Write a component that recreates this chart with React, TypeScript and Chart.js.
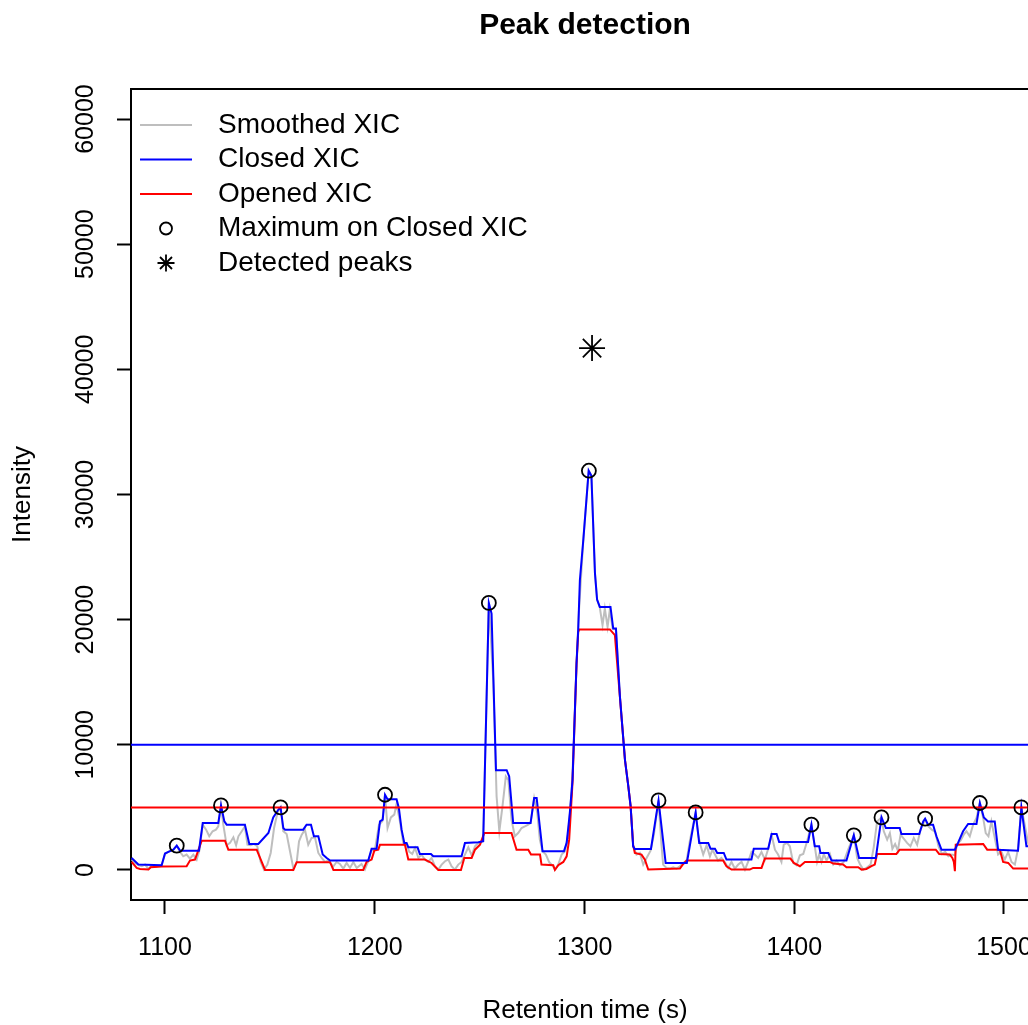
import React, { useEffect, useRef } from 'react';
import { Chart, registerables } from 'chart.js';

Chart.register(...registerables);

const FONT = '"Liberation Sans", Arial, Helvetica, sans-serif';

const titleText = 'Peak detection';
const xTitleText = 'Retention time (s)';
const yTitleText = 'Intensity';
const timeLimits = [1083.79, 1516.7];
const intensityLimits = [-2400, 62400];
const timeTicks = [1100, 1200, 1300, 1400, 1500];
const intensityTicks = [0, 10000, 20000, 30000, 40000, 50000, 60000];

const smoothedTime = [
  1084.1, 1085.7, 1087.3, 1088.9, 1090.5, 1092.1, 1093.6, 1096.0, 1098.4, 1100.0,
  1101.6, 1104.0, 1105.6, 1107.2, 1108.7, 1110.3, 1111.9, 1113.5, 1115.1, 1116.4,
  1118.0, 1119.6, 1121.1, 1122.7, 1124.3, 1125.4, 1126.7, 1127.8, 1129.4, 1131.0,
  1132.6, 1133.9, 1135.0, 1136.6, 1138.1, 1139.3, 1140.8, 1142.4, 1144.0, 1145.6,
  1147.2, 1148.8, 1150.4, 1152.0, 1153.6, 1155.1, 1156.4, 1158.0, 1159.6, 1161.2,
  1162.8, 1163.9, 1165.2, 1166.7, 1168.3, 1169.9, 1171.5, 1173.1, 1174.7, 1176.3,
  1177.9, 1180.2, 1181.8, 1183.4, 1185.0, 1186.6, 1188.2, 1189.8, 1191.4, 1193.7,
  1195.3, 1196.9, 1198.5, 1200.1, 1202.0, 1203.6, 1204.9, 1206.1, 1207.7, 1209.3,
  1210.4, 1212.0, 1213.6, 1215.2, 1216.5, 1217.9, 1219.2, 1220.8, 1222.3, 1223.9,
  1225.5, 1227.1, 1228.7, 1230.3, 1231.9, 1233.5, 1235.1, 1236.6, 1238.2, 1239.8,
  1241.4, 1243.0, 1244.6, 1246.2, 1247.8, 1249.4, 1251.7, 1254.4, 1256.5, 1258.1,
  1259.4, 1260.9, 1262.5, 1263.7, 1265.2, 1266.8, 1268.4, 1270.0, 1271.6, 1273.2,
  1274.3, 1276.0, 1277.5, 1278.7, 1280.0, 1281.6, 1283.2, 1284.8, 1285.9, 1287.5,
  1289.1, 1290.7, 1292.3, 1293.8, 1295.0, 1296.2, 1297.3, 1299.5, 1300.8, 1302.0,
  1303.3, 1305.0, 1306.0, 1307.3, 1308.6, 1309.7, 1311.0, 1312.1, 1313.4, 1315.0,
  1316.9, 1319.3, 1320.9, 1322.0, 1323.2, 1324.8, 1326.4, 1328.0, 1329.6, 1331.5,
  1333.1, 1335.3, 1336.7, 1337.5, 1339.1, 1340.7, 1342.3, 1343.9, 1345.5, 1347.1,
  1348.7, 1350.2, 1353.0, 1354.2, 1355.3, 1356.6, 1358.2, 1359.8, 1361.0, 1362.2,
  1363.7, 1365.3, 1366.9, 1368.5, 1370.1, 1371.7, 1373.3, 1374.9, 1376.5, 1378.0,
  1379.6, 1381.2, 1382.8, 1384.4, 1386.0, 1387.6, 1389.2, 1390.8, 1392.3, 1393.9,
  1395.0, 1396.6, 1397.9, 1399.5, 1401.1, 1402.7, 1404.3, 1405.9, 1408.2, 1409.8,
  1410.9, 1411.9, 1413.0, 1414.1, 1415.4, 1417.0, 1418.6, 1420.2, 1421.7, 1423.6,
  1425.7, 1428.4, 1430.0, 1431.3, 1432.9, 1434.4, 1436.4, 1437.9, 1439.5, 1441.6,
  1442.7, 1444.3, 1445.6, 1446.8, 1448.1, 1449.4, 1450.7, 1452.2, 1453.8, 1455.4,
  1457.0, 1458.6, 1460.2, 1462.4, 1464.0, 1465.6, 1467.2, 1468.8, 1470.4, 1472.0,
  1473.5, 1475.1, 1476.6, 1477.7, 1479.3, 1480.8, 1482.1, 1483.7, 1485.3, 1486.9,
  1488.5, 1490.1, 1491.3, 1492.6, 1494.0, 1495.6, 1497.2, 1498.8, 1500.4, 1502.0,
  1503.6, 1505.2, 1506.7, 1508.3, 1509.9, 1511.5, 1513.0,
];
const smoothedIntensity = [
  830, 560, 380, 300, 430, 80, 350, 270, 380, 1280,
  1440, 1620, 1940, 1440, 1090, 1230, 910, 1230, 830, 1545,
  3620, 3220, 2690, 3090, 3220, 3490, 5160, 3620, 1970, 2160,
  2610, 1970, 2690, 3090, 3490, 2020, 1970, 2080, 1890, 640,
  30, 430, 1360, 3350, 4550, 5000, 3090, 2870, 1490, 110,
  640, 2290, 2820, 3220, 2020, 2560, 2610, 1360, 960, 640,
  750, 270, 640, 480, 110, 560, 160, 640, 160, 480,
  30, 700, 1545, 1620, 3620, 3880, 6010, 3350, 4200, 4420,
  5270, 3880, 2160, 2020, 1440, 1280, 1760, 960, 1230, 830,
  640, 960, 300, 30, 430, 700, 830, 300, 30, 430,
  640, 1230, 1810, 1170, 1890, 2160, 2290, 21340, 15170, 5880,
  3090, 5080, 7470, 7200, 4010, 2690, 2950, 3350, 3480, 3620,
  3750, 5740, 4550, 2420, 1490, 1230, 610, 350, 30, 430,
  1230, 1490, 2950, 6140, 10390, 16500, 20490, 26500, 29300, 31900,
  31500, 23700, 21600, 20970, 19560, 20890, 19430, 20810, 19290, 19210,
  13850, 8800, 6670, 5080, 1890, 1230, 1360, 430, 960, 1545,
  2820, 5560, 2020, 430, 160, 110, 220, 110, 300, 560,
  750, 2290, 4600, 2820, 1970, 1230, 1970, 1090, 1620, 1230,
  750, 960, 640, 160, 640, 110, 430, 640, 30, 640,
  1440, 1230, 960, 1440, 830, 1700, 2820, 1620, 1230, 640,
  2020, 2160, 1890, 560, 380, 1170, 1280, 2160, 3620, 1890,
  640, 1230, 640, 1280, 750, 1280, 430, 750, 380, 640,
  1620, 2770, 960, 480, 30, 160, 430, 1810, 3880, 4200,
  3090, 2420, 2950, 1700, 2080, 1545, 2820, 2500, 2160, 1890,
  2560, 2020, 3220, 4020, 3490, 3220, 3030, 1890, 1280, 1440,
  1090, 1230, 1170, 2100, 2340, 2820, 3090, 2690, 3620, 4150,
  5350, 4150, 2950, 2690, 3880, 2560, 1230, 1440, 830, 1440,
  640, 430, 1700, 5000, 3620, 2160, 1300,
];

const closedTime = [
  1084.1, 1087.3, 1098.4, 1100.0, 1101.6, 1104.0, 1105.6, 1107.2, 1116.2, 1118.0,
  1125.4, 1126.7, 1128.3, 1129.4, 1138.1, 1140.2, 1144.5, 1149.3, 1151.6, 1154.0,
  1155.1, 1156.4, 1157.2, 1165.9, 1167.5, 1169.6, 1171.0, 1173.1, 1175.2, 1177.1,
  1178.7, 1196.9, 1198.5, 1200.9, 1202.5, 1203.8, 1204.9, 1206.1, 1210.4, 1211.5,
  1212.8, 1214.1, 1215.2, 1216.0, 1220.4, 1221.5, 1226.8, 1227.9, 1241.4, 1243.0,
  1249.4, 1251.7, 1254.4, 1255.7, 1257.8, 1262.9, 1264.1, 1266.0, 1274.3, 1276.0,
  1277.2, 1280.0, 1290.2, 1291.5, 1293.0, 1294.3, 1295.1, 1296.2, 1297.0, 1297.8,
  1299.5, 1300.8, 1302.0, 1303.3, 1305.0, 1306.0, 1307.3, 1312.4, 1313.7, 1315.0,
  1316.9, 1319.3, 1320.9, 1322.0, 1323.2, 1324.0, 1331.7, 1335.3, 1338.7, 1348.8,
  1353.0, 1354.7, 1359.0, 1360.1, 1362.2, 1363.3, 1366.4, 1367.7, 1379.6, 1380.7,
  1387.6, 1389.2, 1391.6, 1392.8, 1406.6, 1408.2, 1409.8, 1411.9, 1412.5, 1416.2,
  1417.8, 1424.9, 1428.4, 1430.9, 1438.9, 1441.6, 1443.7, 1450.3, 1451.1, 1459.6,
  1461.5, 1462.4, 1463.8, 1466.2, 1467.8, 1470.2, 1476.6, 1478.1, 1480.5, 1482.9,
  1486.9, 1488.5, 1490.4, 1492.4, 1495.6, 1497.2, 1506.7, 1508.3, 1510.7, 1514.0,
];
const closedIntensity = [
  960, 430, 380, 1310, 1440, 1620, 1940, 1545, 1545, 3750,
  3750, 5160, 3880, 3620, 3620, 2080, 2080, 2950, 4200, 4810,
  5000, 3350, 3220, 3220, 3620, 3620, 2690, 2690, 1230, 960,
  750, 750, 1700, 1700, 3880, 4020, 6010, 5660, 5660, 4950,
  3220, 2160, 2160, 1810, 1810, 1280, 1280, 1090, 1090, 2160,
  2210, 2290, 21340, 20490, 7970, 7970, 7470, 3750, 3750, 5740,
  5740, 1490, 1490, 2160, 4550, 7200, 11190, 16500, 19160, 23150,
  26500, 29300, 31900, 31500, 23700, 21600, 21020, 21020, 19290, 19290,
  13850, 8800, 6670, 5080, 1890, 1680, 1680, 5560, 560, 560,
  4600, 2160, 2160, 1700, 1700, 1360, 1360, 830, 830, 1700,
  1700, 2870, 2870, 2240, 2240, 3620, 1890, 1890, 1360, 1360,
  750, 750, 2770, 960, 960, 4200, 3350, 3350, 2870, 2870,
  3880, 4100, 3620, 3620, 2690, 1620, 1620, 2160, 3090, 3670,
  3670, 5350, 4200, 3880, 3880, 1620, 1545, 5000, 1890, 1890,
];

const openedTime = [
  1084.1, 1086.5, 1088.1, 1092.1, 1093.2, 1098.4, 1110.3, 1111.9, 1114.3, 1117.5,
  1128.6, 1130.2, 1143.7, 1147.7, 1161.2, 1162.8, 1178.7, 1180.3, 1194.5, 1196.1,
  1198.5, 1199.8, 1201.7, 1202.5, 1214.4, 1216.0, 1223.9, 1227.1, 1230.3, 1241.1,
  1242.7, 1246.2, 1247.8, 1250.2, 1252.2, 1265.2, 1267.6, 1273.2, 1274.5, 1278.8,
  1279.5, 1285.1, 1285.9, 1287.5, 1289.9, 1291.5, 1292.7, 1294.3, 1295.1, 1296.2,
  1297.0, 1297.5, 1312.1, 1314.5, 1316.9, 1319.3, 1320.9, 1322.0, 1323.2, 1324.0,
  1327.2, 1328.8, 1330.4, 1345.5, 1347.1, 1348.7, 1366.1, 1367.7, 1370.1, 1378.8,
  1380.4, 1384.4, 1386.0, 1398.2, 1399.8, 1402.7, 1405.1, 1417.0, 1418.6, 1423.3,
  1424.9, 1430.5, 1432.1, 1434.4, 1436.8, 1438.4, 1439.5, 1448.7, 1450.3, 1467.5,
  1469.1, 1474.2, 1475.4, 1476.1, 1476.6, 1477.0, 1490.1, 1492.0, 1498.0, 1499.6,
  1502.0, 1504.4, 1514.0,
];
const openedIntensity = [
  640, 160, 80, 30, 220, 270, 300, 750, 830, 2340,
  2340, 1620, 1620, 0, 0, 620, 620, 0, 0, 640,
  830, 1545, 1620, 2020, 2020, 830, 830, 560, 0, 0,
  960, 960, 1620, 2020, 2950, 2950, 1620, 1620, 1230, 1230,
  430, 380, 0, 380, 640, 1090, 2420, 7000, 11000, 16400,
  19000, 19220, 19220, 18760, 13800, 8800, 6670, 5080, 2000, 1360,
  1230, 830, 30, 110, 480, 750, 750, 300, 30, 30,
  160, 160, 910, 910, 560, 300, 640, 640, 510, 430,
  220, 220, 30, 80, 300, 430, 1280, 1280, 1620, 1620,
  1280, 1230, 960, 640, -100, 2020, 2080, 1620, 1620, 640,
  560, 110, 110,
];

const maximumTime = [1105.6, 1126.7, 1155.1, 1204.9, 1254.4, 1302.1, 1335.3, 1353.0, 1408.2, 1428.4, 1441.6, 1462.4, 1488.5, 1508.3];
const maximumIntensity = [1940, 5160, 5000, 6010, 21340, 31900, 5560, 4600, 3620, 2770, 4200, 4100, 5350, 5000];

const peakTime = [1303.6];
const peakIntensity = [41700];

const closedThreshold = 10000;
const openedThreshold = 5000;

const legendLabels = ['Smoothed XIC', 'Closed XIC', 'Opened XIC', 'Maximum on Closed XIC', 'Detected peaks'];

const GRAY = '#BEBEBE';
const BLUE = '#0000FF';
const RED = '#FF0000';

function toPoints(xs: number[], ys: number[]) {
  return xs.map((x, i) => ({ x, y: ys[i] }));
}

function drawStar(ctx: CanvasRenderingContext2D, cx: number, cy: number, r: number) {
  ctx.beginPath();
  for (let k = 0; k < 4; k++) {
    const a = (k * Math.PI) / 4;
    ctx.moveTo(cx - Math.cos(a) * r, cy - Math.sin(a) * r);
    ctx.lineTo(cx + Math.cos(a) * r, cy + Math.sin(a) * r);
  }
  ctx.stroke();
}

const decorPlugin = {
  id: 'decor',
  afterDraw(chart: any) {
    const { ctx, chartArea, scales } = chart;
    ctx.save();
    // top frame line
    ctx.strokeStyle = '#000';
    ctx.lineWidth = 2;
    const top = Math.round(chartArea.top);
    ctx.beginPath();
    ctx.moveTo(chartArea.left - 1, top);
    ctx.lineTo(chartArea.right, top);
    ctx.stroke();

    // title centred over the plot region
    ctx.fillStyle = '#000';
    ctx.font = `bold 30px ${FONT}`;
    ctx.textAlign = 'center';
    ctx.textBaseline = 'middle';
    ctx.fillText(titleText, (chartArea.left + chartArea.right) / 2, 26);

    // rotated y tick labels
    const ys = scales.y;
    ctx.font = `25px ${FONT}`;
    ys.ticks.forEach((t: any) => {
      const py = ys.getPixelForValue(t.value);
      ctx.save();
      ctx.translate(chartArea.left - 45, py);
      ctx.rotate(-Math.PI / 2);
      ctx.fillText(String(t.value), 0, 0);
      ctx.restore();
    });

    // legend
    const lx = chartArea.left;
    const rowY = (i: number) => top + 36 + i * 34.5;
    const lineColors = [GRAY, BLUE, RED];
    ctx.lineWidth = 2;
    lineColors.forEach((c, i) => {
      ctx.strokeStyle = c;
      ctx.beginPath();
      ctx.moveTo(lx + 9, rowY(i));
      ctx.lineTo(lx + 61, rowY(i));
      ctx.stroke();
    });
    ctx.strokeStyle = '#000';
    ctx.lineWidth = 1.8;
    ctx.beginPath();
    ctx.arc(lx + 35, rowY(3), 6, 0, Math.PI * 2);
    ctx.stroke();
    drawStar(ctx, lx + 35, rowY(4), 8.5);

    ctx.font = `28px ${FONT}`;
    ctx.textAlign = 'left';
    ctx.textBaseline = 'middle';
    ctx.fillStyle = '#000';
    legendLabels.forEach((label, i) => {
      ctx.fillText(label, lx + 87, rowY(i));
    });
    ctx.restore();
  },
};

export default function App() {
  const canvasRef = useRef<HTMLCanvasElement | null>(null);

  useEffect(() => {
    const canvas = canvasRef.current;
    if (!canvas) return;
    const chart = new Chart(canvas, {
      type: 'line',
      data: {
        datasets: [
          {
            label: 'Detected peaks',
            data: toPoints(peakTime, peakIntensity),
            showLine: false,
            pointStyle: 'star',
            pointRadius: 13,
            borderColor: '#000',
            backgroundColor: 'rgba(0,0,0,0)',
            pointBorderWidth: 1.8,
            order: 0,
          },
          {
            label: 'Maximum on Closed XIC',
            data: toPoints(maximumTime, maximumIntensity),
            showLine: false,
            pointStyle: 'circle',
            pointRadius: 7,
            borderColor: '#000',
            backgroundColor: 'rgba(0,0,0,0)',
            pointBorderWidth: 1.8,
            order: 1,
          },
          {
            label: 'Opened threshold',
            data: toPoints(timeLimits, [openedThreshold, openedThreshold]),
            borderColor: RED,
            borderWidth: 2,
            pointRadius: 0,
            order: 2,
          },
          {
            label: 'Closed threshold',
            data: toPoints(timeLimits, [closedThreshold, closedThreshold]),
            borderColor: BLUE,
            borderWidth: 2,
            pointRadius: 0,
            order: 3,
          },
          {
            label: 'Closed XIC',
            data: toPoints(closedTime, closedIntensity),
            borderColor: BLUE,
            borderWidth: 2,
            pointRadius: 0,
            tension: 0,
            order: 4,
          },
          {
            label: 'Opened XIC',
            data: toPoints(openedTime, openedIntensity),
            borderColor: RED,
            borderWidth: 2,
            pointRadius: 0,
            tension: 0,
            order: 5,
          },
          {
            label: 'Smoothed XIC',
            data: toPoints(smoothedTime, smoothedIntensity),
            borderColor: GRAY,
            borderWidth: 2,
            pointRadius: 0,
            tension: 0,
            order: 6,
          },
        ],
      },
      options: {
        responsive: false,
        animation: false,
        devicePixelRatio: 1,
        events: [],
        layout: { padding: { top: 89, left: 0, right: 0, bottom: 0 }, autoPadding: false },
        plugins: {
          legend: { display: false },
          tooltip: { enabled: false },
          title: { display: false },
        },
        scales: {
          x: {
            type: 'linear',
            min: timeLimits[0],
            max: timeLimits[1],
            afterBuildTicks: (s: any) => {
              s.ticks = timeTicks.map((v) => ({ value: v }));
            },
            afterFit: (s: any) => {
              s.height = 125;
              s.paddingLeft = 0;
              s.paddingRight = 0;
            },
            grid: {
              display: true,
              drawOnChartArea: false,
              drawTicks: true,
              tickLength: 14,
              tickWidth: 2,
              tickColor: '#000',
            },
            border: { display: true, color: '#000', width: 2 },
            ticks: {
              autoSkip: false,
              maxRotation: 0,
              minRotation: 0,
              color: '#000',
              padding: 19,
              font: { family: FONT, size: 25 },
              callback: (v: any) => String(v),
            },
            title: {
              display: true,
              text: xTitleText,
              color: '#000',
              font: { family: FONT, size: 26 },
              padding: { top: 0, bottom: -1.5 },
            },
          },
          y: {
            type: 'linear',
            min: intensityLimits[0],
            max: intensityLimits[1],
            afterBuildTicks: (s: any) => {
              s.ticks = intensityTicks.map((v) => ({ value: v }));
            },
            afterFit: (s: any) => {
              s.width = 131;
              s.paddingTop = 0;
              s.paddingBottom = 0;
            },
            grid: {
              display: true,
              drawOnChartArea: false,
              drawTicks: true,
              tickLength: 14,
              tickWidth: 2,
              tickColor: '#000',
            },
            border: { display: true, color: '#000', width: 2 },
            ticks: { display: false },
            title: {
              display: true,
              text: yTitleText,
              color: '#000',
              font: { family: FONT, size: 26 },
              padding: { top: 7.5, bottom: 0 },
            },
          },
        },
      },
      plugins: [decorPlugin],
    });
    return () => chart.destroy();
  }, []);

  return (
    <div style={{ position: 'absolute', left: 0, top: 0, width: 1028, height: 1025, overflow: 'hidden', background: '#fff' }}>
      <canvas ref={canvasRef} width={1039} height={1025} style={{ display: 'block' }} />
    </div>
  );
}
